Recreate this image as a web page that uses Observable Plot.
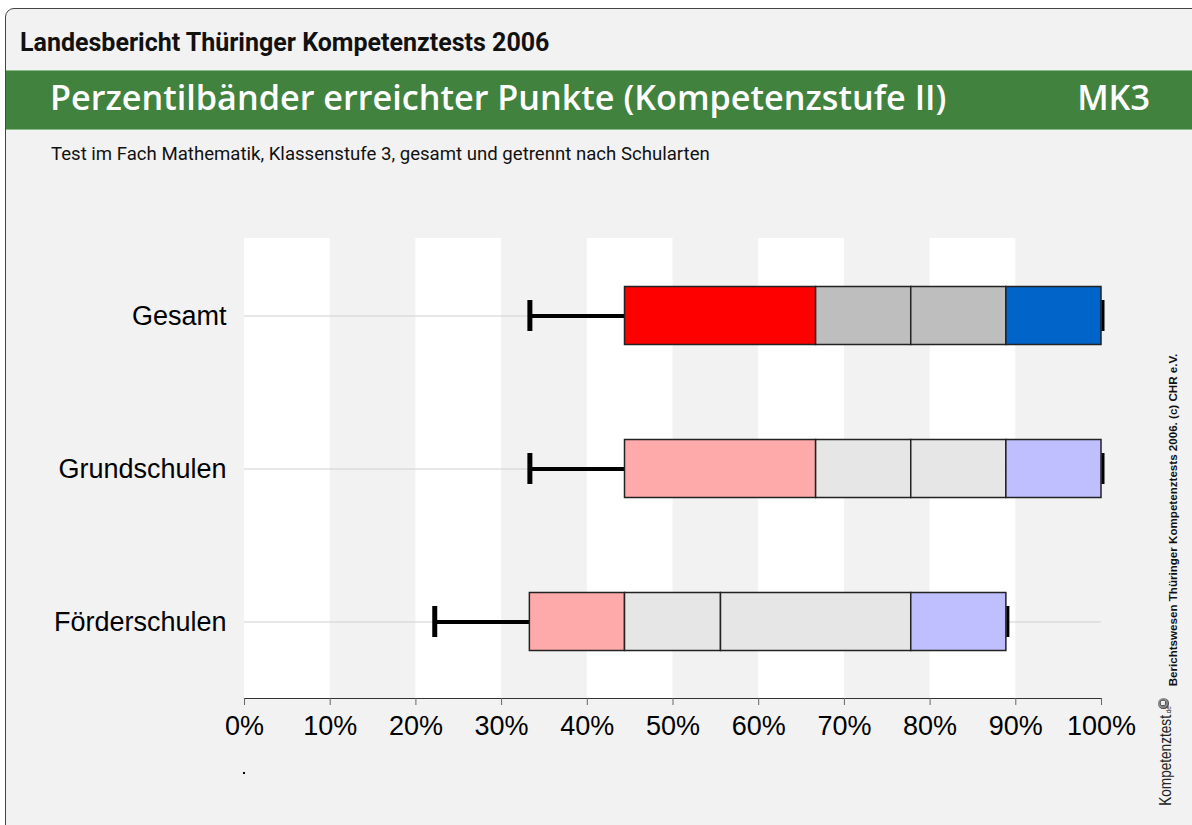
<!DOCTYPE html>
<html>
<head>
<meta charset="utf-8">
<script src="https://cdn.jsdelivr.net/npm/d3@7"></script>
<script src="https://cdn.jsdelivr.net/npm/@observablehq/plot@0.6"></script>
<style>
  html, body { margin: 0; padding: 0; background: #fff; }
  #page { position: relative; width: 1192px; height: 825px; overflow: hidden; background: #fff; }
  #frame { position: absolute; left: 5px; top: 8px; width: 1200px; height: 830px; border: 1px solid #444;
           border-top-left-radius: 9px; background: #f2f2f2; box-sizing: border-box; }
  #band { position: absolute; left: 6px; top: 70px; width: 1190px; height: 60px; background: #41823f;
          border-top: 1px solid #8cb98a; border-bottom: 1px solid #8cb98a; box-sizing: border-box; }
  .abs { position: absolute; white-space: nowrap; }
  #h1 { left: 20px; top: 30px; font: 700 25px Roboto, sans-serif; line-height: 25px; color: #111; }
  #title { left: 50px; top: 80px; font: 600 34.2px "Open Sans", sans-serif; line-height: 34px; color: #fff; }
  #mk { right: 42px; top: 80px; font: 600 34.2px "Open Sans", sans-serif; line-height: 34px; color: #fff; }
  #sub { left: 51px; top: 145px; font: 400 18.6px Roboto, sans-serif; line-height: 18px; color: #111; }
  .rot { position: absolute; transform: translate(-50%, -50%) rotate(-90deg); white-space: nowrap; }
  #credit { left: 1172px; top: 520px; font: 700 11.6px "Liberation Sans", sans-serif; color: #111; }
  #logo { left: 1166px; top: 756px; font: 400 17px "Liberation Sans", sans-serif; color: #222;
          transform: translate(-50%, -50%) rotate(-90deg) scaleX(0.8); }
  #logo small { font-size: 8px; }
  #icon { position: absolute; left: 1158px; top: 698px; width: 11px; height: 11px; border-radius: 50%;
          background: radial-gradient(circle at 45% 45%, #eee 0, #eee 25%, #555 30%, #999 50%, #333 70%, #666 100%); }
  #chart { position: absolute; left: 0; top: 200px; }
  #dotmark { position: absolute; left: 243px; top: 772px; width: 2px; height: 2px; background: #000; }
</style>
</head>
<body>
<div id="page">
  <div id="frame"></div>
  <div id="band"></div>
  <div id="h1" class="abs">Landesbericht Thüringer Kompetenztests 2006</div>
  <div id="title" class="abs">Perzentilbänder erreichter Punkte (Kompetenzstufe II)</div>
  <div id="mk" class="abs">MK3</div>
  <div id="sub" class="abs">Test im Fach Mathematik, Klassenstufe 3, gesamt und getrennt nach Schularten</div>
  <div id="chart"></div>
  <div id="dotmark"></div>
  <div id="credit" class="rot">Berichtswesen Thüringer Kompetenztests 2006. (c) CHR e.V.</div>
  <div id="logo" class="rot">Kompetenztest<small>.de</small></div>
  <div id="icon"></div>
</div>
<script>
// ---- data (percent of points) ----
const categories = ["Gesamt", "Grundschulen", "Förderschulen"];
const whiskerLow  = [33.3, 33.3, 22.2];
const boxStart    = [44.4, 44.4, 33.3];
const cut1        = [66.7, 66.7, 44.4];
const cut2        = [77.8, 77.8, 55.6];
const cut3        = [88.9, 88.9, 77.8];
const boxEnd      = [100, 100, 88.9];
const whiskerHigh = [100, 100, 88.9];
const lowColors   = ["#ff0000", "#ffaaaa", "#ffaaaa"];
const midColors   = ["#bebebe", "#e6e6e6", "#e6e6e6"];
const highColors  = ["#0064c8", "#bfbfff", "#bfbfff"];
const tickValues  = [0, 10, 20, 30, 40, 50, 60, 70, 80, 90, 100];
const stripeStarts = [0, 20, 40, 60, 80];
const stripeWidth = 10;

const rows = categories.map((c, i) => ({cat: c, lo: whiskerLow[i], s: boxStart[i], hi: whiskerHigh[i]}));
const segments = categories.flatMap((c, i) => [
  {cat: c, x1: boxStart[i], x2: cut1[i], fill: lowColors[i]},
  {cat: c, x1: cut1[i], x2: cut2[i], fill: midColors[i]},
  {cat: c, x1: cut2[i], x2: cut3[i], fill: midColors[i]},
  {cat: c, x1: cut3[i], x2: boxEnd[i], fill: highColors[i]}
]);
const stripes = stripeStarts.map(a => ({a, b: a + stripeWidth}));

const chart = Plot.plot({
  width: 1192,
  height: 600,
  marginLeft: 244,
  marginRight: 91,
  marginTop: 38,
  marginBottom: 102,
  style: {background: "transparent", fontFamily: "'Liberation Sans', Arial, sans-serif", color: "#000"},
  x: {domain: [0, 100]},
  y: {domain: categories, padding: 0},
  marks: [
    Plot.rect(stripes, {x1: "a", x2: "b", fill: "#ffffff"}),
    Plot.ruleY(categories, {stroke: "#cfcfcf", strokeWidth: 1.2}),
    Plot.ruleY(rows, {y: "cat", x1: "lo", x2: "s", stroke: "#000", strokeWidth: 4}),
    Plot.tickX(rows, {y: "cat", x: "lo", stroke: "#000", strokeWidth: 5, insetTop: 61, insetBottom: 61}),
    Plot.barX(segments, {y: "cat", x1: "x1", x2: "x2", fill: "fill", stroke: "#222", strokeWidth: 1.5, insetTop: 47.5, insetBottom: 47.5}),
    Plot.tickX(rows, {y: "cat", x: "hi", dx: 1.5, stroke: "#000", strokeWidth: 3, insetTop: 61, insetBottom: 61}),
    Plot.frame({anchor: "bottom", stroke: "#333", strokeWidth: 1.2}),
    Plot.axisX({ticks: tickValues, tickFormat: d => d + "%", tickSize: 7, tickPadding: 10, fontSize: 27, stroke: "#666", fill: "#000", label: null}),
    Plot.axisY({tickSize: 0, tickPadding: 18, fontSize: 27, fill: "#000", label: null})
  ]
});
document.getElementById("chart").appendChild(chart);
</script>
</body>
</html>
